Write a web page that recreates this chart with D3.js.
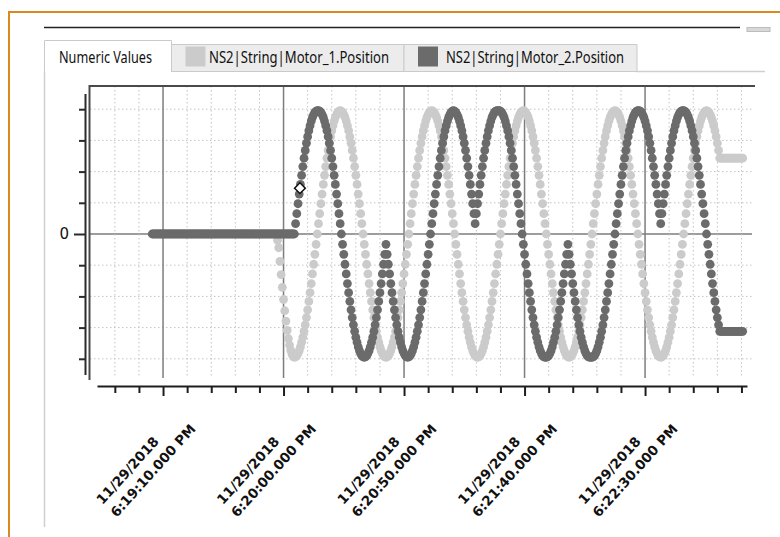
<!DOCTYPE html>
<html>
<head>
<meta charset="utf-8">
<script src="https://cdn.jsdelivr.net/npm/d3@7"></script>
<style>
  html, body { margin: 0; padding: 0; background: #fff; }
  svg { display: block; }
</style>
</head>
<body>
<svg id="chart" width="780" height="537"></svg>
<script>
// tab labels (first tab is the active one)
const tabLabels = ["Numeric Values", "NS2|String|Motor_1.Position", "NS2|String|Motor_2.Position"];

// x axis: labelled ticks
const tickDates = ["11/29/2018", "11/29/2018", "11/29/2018", "11/29/2018", "11/29/2018"];
const tickTimes = ["6:19:10.000 PM", "6:20:00.000 PM", "6:20:50.000 PM", "6:21:40.000 PM", "6:22:30.000 PM"];
const xDomain = ["11/29/2018 6:18:42.600 PM", "11/29/2018 6:23:12.300 PM"];

// y axis
const yTicks = [-4, -3, -2, -1, 0, 1, 2, 3, 4];
const yTickLabels = ["", "", "", "", "0", "", "", "", ""];

// samples are logged every half second
const sampleStep = 0.5;
const motor1Start = "11/29/2018 6:19:57.500 PM";
const motor2Start = "11/29/2018 6:19:05.500 PM";

// NS2|String|Motor_1.Position (light)
const motor1Values = [
  -0.2, -0.44, -0.88, -1.3, -1.71, -2.1, -2.46, -2.79, -3.09, -3.35, -3.56, -3.73, -3.85, -3.93, -3.95,
  -3.94, -3.9, -3.83, -3.74, -3.62, -3.47, -3.31, -3.12, -2.91, -2.68, -2.43, -2.16, -1.88, -1.59, -1.28, -0.97, -0.65, -0.33, 0, 0.33, 0.65, 0.97, 1.28, 1.59, 1.88, 2.16, 2.43, 2.68, 2.91, 3.12, 3.31, 3.47, 3.62, 3.74, 3.83, 3.9, 3.94, 3.95,
  3.94, 3.9, 3.83, 3.74, 3.62, 3.47, 3.31, 3.12, 2.91, 2.68, 2.43, 2.16, 1.88, 1.59, 1.28, 0.97, 0.65, 0.33, 0, -0.33, -0.65, -0.97, -1.28, -1.59, -1.88, -2.16, -2.43, -2.68, -2.91, -3.12, -3.31, -3.47, -3.62, -3.74, -3.83, -3.9, -3.94, -3.95,
  -3.94, -3.9, -3.83, -3.74, -3.62, -3.47, -3.31, -3.12, -2.91, -2.68, -2.43, -2.16, -1.88, -1.59, -1.28, -0.97, -0.65, -0.33, 0, 0.33, 0.65, 0.97, 1.28, 1.59, 1.88, 2.16, 2.43, 2.68, 2.91, 3.12, 3.31, 3.47, 3.62, 3.74, 3.83, 3.9, 3.94, 3.95,
  3.94, 3.9, 3.83, 3.74, 3.62, 3.47, 3.31, 3.12, 2.91, 2.68, 2.43, 2.16, 1.88, 1.59, 1.28, 0.97, 0.65, 0.33, 0, -0.33, -0.65, -0.97, -1.28, -1.59, -1.88, -2.16, -2.43, -2.68, -2.91, -3.12, -3.31, -3.47, -3.62, -3.74, -3.83, -3.9, -3.94, -3.95,
  -3.94, -3.9, -3.83, -3.74, -3.62, -3.47, -3.31, -3.12, -2.91, -2.68, -2.43, -2.16, -1.88, -1.59, -1.28, -0.97, -0.65, -0.33, 0, 0.33, 0.65, 0.97, 1.28, 1.59, 1.88, 2.16, 2.43, 2.68, 2.91, 3.12, 3.31, 3.47, 3.62, 3.74, 3.83, 3.9, 3.94, 3.95,
  3.94, 3.9, 3.83, 3.74, 3.62, 3.47, 3.31, 3.12, 2.91, 2.68, 2.43, 2.16, 1.88, 1.59, 1.28, 0.97, 0.65, 0.33, 0, -0.33, -0.65, -0.97, -1.28, -1.59, -1.88, -2.16, -2.43, -2.68, -2.91, -3.12, -3.31, -3.47, -3.62, -3.74, -3.83, -3.9, -3.94, -3.95,
  -3.94, -3.9, -3.83, -3.74, -3.62, -3.47, -3.31, -3.12, -2.91, -2.68, -2.43, -2.16, -1.88, -1.59, -1.28, -0.97, -0.65, -0.33, 0, 0.33, 0.65, 0.97, 1.28, 1.59, 1.88, 2.16, 2.43, 2.68, 2.91, 3.12, 3.31, 3.47, 3.62, 3.74, 3.83, 3.9, 3.94, 3.95,
  3.94, 3.9, 3.83, 3.74, 3.62, 3.47, 3.31, 3.12, 2.91, 2.68, 2.43, 2.16, 1.88, 1.59, 1.28, 0.97, 0.65, 0.33, 0, -0.33, -0.65, -0.97, -1.28, -1.59, -1.88, -2.16, -2.43, -2.68, -2.91, -3.12, -3.31, -3.47, -3.62, -3.74, -3.83, -3.9, -3.94, -3.95,
  -3.94, -3.9, -3.83, -3.74, -3.62, -3.47, -3.31, -3.12, -2.91, -2.68, -2.43, -2.16, -1.88, -1.59, -1.28, -0.97, -0.65, -0.33, 0, 0.33, 0.65, 0.97, 1.28, 1.59, 1.88, 2.16, 2.43, 2.68, 2.91, 3.12, 3.31, 3.47, 3.62, 3.74, 3.83, 3.9, 3.94, 3.95,
  3.94, 3.9, 3.83, 3.74, 3.62, 3.47, 3.31, 3.12, 2.91, 2.68, 2.43,
  2.43, 2.43, 2.43, 2.43, 2.43, 2.43, 2.43, 2.43, 2.43, 2.43, 2.43, 2.43, 2.43, 2.43, 2.43, 2.43, 2.43, 2.43, 2.43
];

// NS2|String|Motor_2.Position (dark)
const motor2Values = [
  0, 0, 0, 0, 0, 0, 0, 0, 0, 0, 0, 0, 0, 0, 0, 0, 0, 0, 0, 0,
  0, 0, 0, 0, 0, 0, 0, 0, 0, 0, 0, 0, 0, 0, 0, 0, 0, 0, 0, 0,
  0, 0, 0, 0, 0, 0, 0, 0, 0, 0, 0, 0, 0, 0, 0, 0, 0, 0, 0, 0,
  0, 0, 0, 0, 0, 0, 0, 0, 0, 0, 0, 0, 0, 0, 0, 0, 0, 0, 0, 0,
  0, 0, 0, 0, 0, 0, 0, 0, 0, 0, 0, 0, 0, 0, 0, 0, 0, 0, 0, 0,
  0, 0, 0, 0, 0, 0, 0, 0, 0, 0, 0, 0, 0, 0, 0, 0, 0, 0, 0,
  0.33, 0.65, 0.97, 1.28, 1.59, 1.88, 2.16, 2.43, 2.68, 2.91, 3.12, 3.31, 3.47, 3.62, 3.74, 3.83, 3.9, 3.94, 3.95, 3.95,
  3.94, 3.9, 3.83, 3.74, 3.62, 3.47, 3.31, 3.12, 2.91, 2.68, 2.43, 2.16, 1.88, 1.59, 1.28, 0.97, 0.65, 0.33, 0, -0.33, -0.65, -0.97, -1.28, -1.59, -1.88, -2.16, -2.43, -2.68, -2.91, -3.12, -3.31, -3.47, -3.62, -3.74, -3.83, -3.9, -3.94, -3.95,
  -3.94, -3.9, -3.83, -3.74, -3.62, -3.47, -3.31, -3.12, -2.91, -2.68, -2.43, -2.16, -1.88, -1.59, -1.28, -0.97, -0.65, -0.33,
  -0.65, -0.97, -1.28, -1.59, -1.88, -2.16, -2.43, -2.68, -2.91, -3.12, -3.31, -3.47, -3.62, -3.74, -3.83, -3.9, -3.94, -3.95,
  -3.94, -3.9, -3.83, -3.74, -3.62, -3.47, -3.31, -3.12, -2.91, -2.68, -2.43, -2.16, -1.88, -1.59, -1.28, -0.97, -0.65, -0.33, 0, 0.33, 0.65, 0.97, 1.28, 1.59, 1.88, 2.16, 2.43, 2.68, 2.91, 3.12, 3.31, 3.47, 3.62, 3.74, 3.83, 3.9, 3.94, 3.95,
  3.94, 3.9, 3.83, 3.74, 3.62, 3.47, 3.31, 3.12, 2.91, 2.68, 2.43, 2.16, 1.88, 1.59, 1.28, 0.97, 0.65, 0.33,
  0.65, 0.97, 1.28, 1.59, 1.88, 2.16, 2.43, 2.68, 2.91, 3.12, 3.31, 3.47, 3.62, 3.74, 3.83, 3.9, 3.94, 3.95,
  3.95, 3.95,
  3.94, 3.9, 3.83, 3.74, 3.62, 3.47, 3.31, 3.12, 2.91, 2.68, 2.43, 2.16, 1.88, 1.59, 1.28, 0.97, 0.65, 0.33, 0, -0.33, -0.65, -0.97, -1.28, -1.59, -1.88, -2.16, -2.43, -2.68, -2.91, -3.12, -3.31, -3.47, -3.62, -3.74, -3.83, -3.9, -3.94, -3.95,
  -3.95,
  -3.94, -3.9, -3.83, -3.74, -3.62, -3.47, -3.31, -3.12, -2.91, -2.68, -2.43, -2.16, -1.88, -1.59, -1.28, -0.97, -0.65, -0.33,
  -0.65, -0.97, -1.28, -1.59, -1.88, -2.16, -2.43, -2.68, -2.91, -3.12, -3.31, -3.47, -3.62, -3.74, -3.83, -3.9, -3.94, -3.95,
  -3.95, -3.95,
  -3.94, -3.9, -3.83, -3.74, -3.62, -3.47, -3.31, -3.12, -2.91, -2.68, -2.43, -2.16, -1.88, -1.59, -1.28, -0.97, -0.65, -0.33, 0, 0.33, 0.65, 0.97, 1.28, 1.59, 1.88, 2.16, 2.43, 2.68, 2.91, 3.12, 3.31, 3.47, 3.62, 3.74, 3.83, 3.9, 3.94, 3.95,
  3.95,
  3.94, 3.9, 3.83, 3.74, 3.62, 3.47, 3.31, 3.12, 2.91, 2.68, 2.43, 2.16, 1.88, 1.59, 1.28, 0.97, 0.65, 0.33,
  0.65, 0.97, 1.28, 1.59, 1.88, 2.16, 2.43, 2.68, 2.91, 3.12, 3.31, 3.47, 3.62, 3.74, 3.83, 3.9, 3.94, 3.95,
  3.95,
  3.94, 3.9, 3.83, 3.74, 3.62, 3.47, 3.31, 3.12, 2.91, 2.68, 2.43, 2.16, 1.88, 1.59, 1.28, 0.97, 0.65, 0.33, 0, -0.33, -0.65, -0.97, -1.28, -1.59, -1.88, -2.16, -2.43, -2.68, -2.91, -3.12,
  -3.12, -3.12, -3.12, -3.12, -3.12, -3.12, -3.12, -3.12, -3.12, -3.12, -3.12, -3.12, -3.12, -3.12, -3.12, -3.12, -3.12, -3.12, -3.12
];

// hover marker sitting on the Motor_2 trace
const cursorTime = "11/29/2018 6:20:06.800 PM";
const cursorValue = 1.47;

const colors = { motor1: "#cbcbcb", motor2: "#6b6b6b" };

const parseTime = d3.timeParse("%m/%d/%Y %I:%M:%S.%L %p");

function toPoints(startText, values) {
  const start = parseTime(startText);
  return values.map((v, i) => ({
    time: d3.timeMillisecond.offset(start, Math.round(i * sampleStep * 1000)),
    value: v
  }));
}

const motor1 = toPoints(motor1Start, motor1Values);
const motor2 = toPoints(motor2Start, motor2Values);
const majorTicks = tickDates.map((d, i) => parseTime(d + " " + tickTimes[i]));

const svg = d3.select("#chart");

// window chrome -------------------------------------------------------
svg.append("path")
  .attr("d", "M9,537V12H780")
  .attr("fill", "none")
  .attr("stroke", "#d88a1d")
  .attr("stroke-width", 2);

svg.append("line")
  .attr("x1", 44).attr("x2", 740).attr("y1", 27.5).attr("y2", 27.5)
  .attr("stroke", "#222").attr("stroke-width", 1.5);

svg.append("rect")
  .attr("x", 747).attr("y", 27.5).attr("width", 23).attr("height", 4)
  .attr("fill", "#d8d8d8").attr("stroke", "#bcbcbc");

// panel border
svg.append("path")
  .attr("d", "M44.5,527V71.5M636,71.5H765")
  .attr("fill", "none").attr("stroke", "#cfcfcf").attr("stroke-width", 1.5);

// tabs
const tabs = [
  { x0: 44.5, x1: 171.5, top: 40.5, active: true },
  { x0: 171.5, x1: 404, top: 44.5, active: false, swatch: colors.motor1 },
  { x0: 404, x1: 637, top: 44.5, active: false, swatch: colors.motor2 }
];
const textSpec = [
  { x: 59, len: 93 },
  { x: 209, len: 180 },
  { x: 446, len: 178 }
];

const tabG = svg.append("g").attr("class", "tabs");
tabs.forEach((t, i) => {
  tabG.append("path")
    .attr("d", t.active
      ? `M${t.x0},72V${t.top}H${t.x1}V72`
      : `M${t.x0},71.5V${t.top}H${t.x1}V71.5Z`)
    .attr("fill", t.active ? "#fff" : "#ececec")
    .attr("stroke", "#cacaca")
    .attr("stroke-width", 1);
  if (t.swatch) {
    tabG.append("rect")
      .attr("x", t.x0 + 14).attr("y", 46.5)
      .attr("width", 20).attr("height", 20)
      .attr("fill", t.swatch);
  }
  tabG.append("text")
    .attr("x", textSpec[i].x).attr("y", 63)
    .attr("textLength", textSpec[i].len)
    .attr("lengthAdjust", "spacingAndGlyphs")
    .attr("font-family", "'Noto Sans', 'Open Sans', sans-serif")
    .attr("font-size", 15.5)
    .attr("fill", "#111")
    .text(tabLabels[i]);
});

// scales ----------------------------------------------------------------
const x = d3.scaleTime()
  .domain(xDomain.map(parseTime))
  .range([97, 747]);

const y = d3.scaleLinear()
  .domain([-4.5, 4.5])
  .range([374.4, 93.6]);

const plotTop = 86, plotBottom = 378, plotLeft = 90, plotRight = 752;

const allTicks = x.ticks(d3.timeSecond.every(10));
const isMajor = (d) => majorTicks.some((m) => +m === +d);

// grid
const grid = svg.append("g").attr("class", "grid");

grid.selectAll("line.h")
  .data(yTicks)
  .enter()
  .append("line")
  .attr("class", "h")
  .attr("x1", plotLeft).attr("x2", plotRight)
  .attr("y1", (d) => y(d)).attr("y2", (d) => y(d))
  .attr("stroke", (d) => (d === 0 ? "#7d7d7d" : "#c2c2c2"))
  .attr("stroke-width", (d) => (d === 0 ? 1.5 : 1))
  .attr("stroke-dasharray", (d) => (d === 0 ? null : "1.5,2.5"));

grid.selectAll("line.v")
  .data(allTicks)
  .enter()
  .append("line")
  .attr("class", "v")
  .attr("x1", (d) => x(d)).attr("x2", (d) => x(d))
  .attr("y1", plotTop).attr("y2", plotBottom)
  .attr("stroke", (d) => (isMajor(d) ? "#7d7d7d" : "#c2c2c2"))
  .attr("stroke-width", (d) => (isMajor(d) ? 1.5 : 1))
  .attr("stroke-dasharray", (d) => (isMajor(d) ? null : "1.5,2.5"));

// plot frame (top + left)
svg.append("path")
  .attr("d", `M89.5,380V${plotTop}H755`)
  .attr("fill", "none")
  .attr("stroke", "#4a4a4a")
  .attr("stroke-width", 2);

// y axis
const yAxis = svg.append("g")
  .attr("transform", "translate(85,0)")
  .call(
    d3.axisLeft(y)
      .tickValues(yTicks)
      .tickSize(6)
      .tickSizeOuter(0)
      .tickPadding(10)
      .tickFormat((d, i) => yTickLabels[i])
  );
yAxis.select(".domain").attr("stroke", "#2a2a2a").attr("stroke-width", 2);
yAxis.selectAll(".tick line")
  .attr("stroke", "#2a2a2a").attr("stroke-width", 2)
  .attr("x2", (d) => (d === 0 ? -11 : -6));
yAxis.selectAll(".tick text")
  .attr("font-family", "'DejaVu Sans', sans-serif")
  .attr("font-size", 15)
  .attr("fill", "#111");

// x axis
const xAxis = svg.append("g")
  .attr("transform", "translate(0,386)")
  .call(
    d3.axisBottom(x)
      .tickValues(allTicks)
      .tickSize(7)
      .tickSizeOuter(0)
      .tickFormat("")
  );
xAxis.select(".domain").attr("stroke", "#1e1e1e").attr("stroke-width", 2);
xAxis.selectAll(".tick line")
  .attr("stroke", "#1e1e1e").attr("stroke-width", 2)
  .attr("y2", (d) => (isMajor(d) ? 10 : 7));

// rotated two-line date labels
const labelG = svg.append("g").attr("class", "xlabels");
majorTicks.forEach((d, i) => {
  const g = labelG.append("g")
    .attr("transform", `translate(${x(d) + 2},412) rotate(-48)`);
  const t = g.append("text")
    .attr("font-family", "'DejaVu Sans', sans-serif")
    .attr("font-size", 13.5)
    .attr("font-weight", "bold")
    .attr("fill", "#111");
  const l1 = t.append("tspan").attr("y", 16).text(tickDates[i]);
  const l2 = t.append("tspan").attr("y", 35).text(tickTimes[i]);
  const w = l2.node().getComputedTextLength();
  l1.attr("x", 8 - w);
  l2.attr("x", 8 - w);
});

// data points -------------------------------------------------------------
const dots = svg.append("g").attr("class", "dots");

dots.selectAll("circle.m1")
  .data(motor1)
  .enter()
  .append("circle")
  .attr("class", "m1")
  .attr("cx", (d) => x(d.time))
  .attr("cy", (d) => y(d.value))
  .attr("r", 4.4)
  .attr("fill", colors.motor1);

dots.selectAll("circle.m2")
  .data(motor2)
  .enter()
  .append("circle")
  .attr("class", "m2")
  .attr("cx", (d) => x(d.time))
  .attr("cy", (d) => y(d.value))
  .attr("r", 4.4)
  .attr("fill", colors.motor2);

// hover marker
svg.append("path")
  .attr("d", d3.symbol(d3.symbolSquare, 58)())
  .attr("transform", `translate(${x(parseTime(cursorTime))},${y(cursorValue)}) rotate(45)`)
  .attr("fill", "#fff")
  .attr("stroke", "#111")
  .attr("stroke-width", 1.5);
</script>
</body>
</html>
